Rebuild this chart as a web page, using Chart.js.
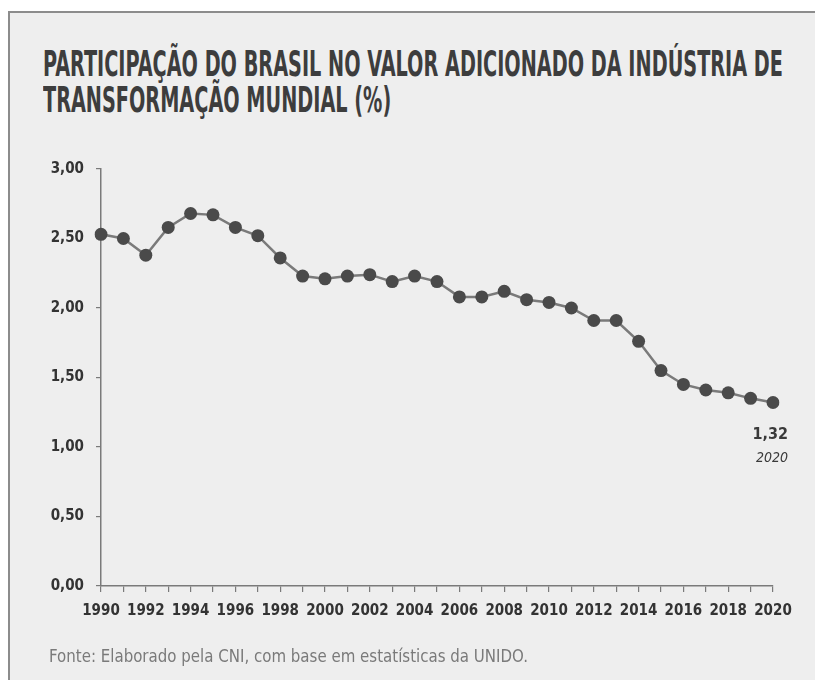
<!DOCTYPE html>
<html>
<head>
<meta charset="utf-8">
<script src="https://cdn.jsdelivr.net/npm/chart.js@4.4.1/dist/chart.umd.min.js"></script>
<style>
  html, body { margin:0; padding:0; background:#ffffff; width:815px; height:680px; overflow:hidden; }
  #panel { position:absolute; left:8px; top:11px; width:807px; height:669px; background:#eeeeee;
           border-left:2px solid #8c8c8c; border-top:2px solid #8c8c8c; box-sizing:border-box; }
  #chart { position:absolute; left:0; top:0; }
  .tl { position:absolute; left:43px; white-space:nowrap; transform-origin:0 0;
        font-family:'Liberation Sans Narrow','DejaVu Sans Condensed',sans-serif; font-weight:bold;
        font-size:36px; line-height:36px; color:#3d3d3d; }
  #foot { position:absolute; left:49px; top:646px; white-space:nowrap; transform-origin:0 0;
        font-family:'Liberation Sans Narrow','DejaVu Sans Condensed',sans-serif;
        font-size:17px; line-height:20px; color:#7a7a7a; }
</style>
</head>
<body>
<div id="panel"></div>
<div class="tl" id="t1" style="top:46px">PARTICIPAÇÃO DO BRASIL NO VALOR ADICIONADO DA INDÚSTRIA DE</div>
<div class="tl" id="t2" style="top:82px">TRANSFORMAÇÃO MUNDIAL (%)</div>
<canvas id="chart" width="815" height="680"></canvas>
<div id="foot">Fonte: Elaborado pela CNI, com base em estatísticas da UNIDO.</div>
<script>
const years = ['1990','1991','1992','1993','1994','1995','1996','1997','1998','1999',
               '2000','2001','2002','2003','2004','2005','2006','2007','2008','2009',
               '2010','2011','2012','2013','2014','2015','2016','2017','2018','2019','2020'];
const shares = [2.53,2.50,2.38,2.58,2.68,2.67,2.58,2.52,2.36,2.23,
                2.21,2.23,2.24,2.19,2.23,2.19,2.08,2.08,2.12,2.06,
                2.04,2.00,1.91,1.91,1.76,1.55,1.45,1.41,1.39,1.35,1.32];
const yMin = 0, yMax = 3, yStep = 0.5;
const lastLabelYear = '2020';

const FAM = "'Liberation Sans Narrow','DejaVu Sans Condensed',sans-serif";
const fmt = v => v.toFixed(2).replace('.', ',');

// fit title / footer widths
(function(){
  const t1 = document.getElementById('t1'), t2 = document.getElementById('t2'), f = document.getElementById('foot');
  const s = 740 / t1.getBoundingClientRect().width;
  t1.style.transform = t2.style.transform = 'scaleX(' + s + ')';
  const fs = 479 / f.getBoundingClientRect().width;
  f.style.transform = 'scaleX(' + fs + ')';
})();

const endLabel = {
  id: 'endLabel',
  afterDatasetsDraw(chart) {
    const meta = chart.getDatasetMeta(0);
    const i = shares.length - 1;
    const pt = meta.data[i];
    const ctx = chart.ctx;
    ctx.save();
    ctx.textAlign = 'right';
    ctx.textBaseline = 'middle';
    ctx.fillStyle = '#3a3a3a';
    ctx.font = 'bold 16px ' + FAM;
    ctx.fillText(fmt(shares[i]), pt.x + 15, pt.y + 32);
    ctx.font = 'italic 14px ' + FAM;
    ctx.fillText(lastLabelYear, pt.x + 15, pt.y + 56);
    ctx.restore();
  }
};

new Chart(document.getElementById('chart'), {
  type: 'line',
  data: {
    labels: years,
    datasets: [{
      data: shares,
      borderColor: '#7a7a7a',
      borderWidth: 2.5,
      pointBackgroundColor: '#4a4a4a',
      pointBorderColor: '#4a4a4a',
      pointBorderWidth: 0,
      pointRadius: 6.5,
      tension: 0,
      fill: false
    }]
  },
  options: {
    responsive: false,
    animation: false,
    devicePixelRatio: 1,
    layout: { padding: { top: 169, right: 42, left: 0, bottom: 0 } },
    plugins: { legend: { display: false }, tooltip: { enabled: false }, title: { display: false } },
    scales: {
      x: {
        type: 'category',
        offset: false,
        afterFit(s) { s.height = 94; },
        grid: { display: true, drawOnChartArea: false, drawTicks: true, tickLength: 6, color: '#7a7a7a', lineWidth: 1.2 },
        border: { display: true, color: '#7a7a7a', width: 1.5 },
        ticks: {
          autoSkip: false, maxRotation: 0, minRotation: 0, padding: 10,
          color: '#333333', font: { family: FAM, size: 15, weight: 'bold' },
          callback(v, i) { return i % 2 === 0 ? years[i] : ''; }
        }
      },
      y: {
        min: yMin, max: yMax,
        afterFit(s) { s.width = 101; },
        grid: { display: true, drawOnChartArea: false, drawTicks: true, tickLength: 5, color: '#7a7a7a', lineWidth: 1.2 },
        border: { display: true, color: '#7a7a7a', width: 1.5 },
        ticks: {
          stepSize: yStep, padding: 12,
          color: '#333333', font: { family: FAM, size: 15, weight: 'bold' },
          callback(v) { return fmt(v); }
        }
      }
    }
  },
  plugins: [endLabel]
});
</script>
</body>
</html>
